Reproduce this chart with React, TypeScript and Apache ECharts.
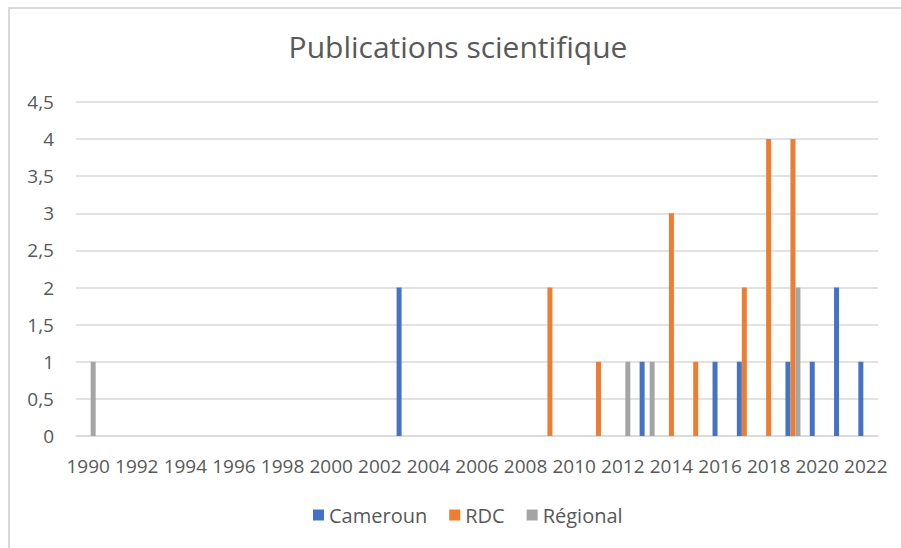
import React, { useEffect, useRef } from "react";
import * as echarts from "echarts";

const years: string[] = [];
for (let y = 1990; y <= 2022; y++) years.push(String(y));

// values per year 1990..2022 (0 = no bar)
const cameroun = [0,0,0,0,0,0,0,0,0,0,0,0,0,2,0,0,0,0,0,0,0,0,0,1,0,0,1,1,0,1,1,2,1];
const rdc      = [0,0,0,0,0,0,0,0,0,0,0,0,0,0,0,0,0,0,0,2,0,1,0,0,3,1,0,2,4,4,0,0,0];
const regional = [1,0,0,0,0,0,0,0,0,0,0,0,0,0,0,0,0,0,0,0,0,0,1,1,0,0,0,0,0,2,0,0,0];

const seriesNames = ["Cameroun", "RDC", "Régional"];
const seriesColors = ["#4472C4", "#ED7D31", "#A5A5A5"];
const titleText = "Publications scientifique";

const FONT = "'Open Sans', sans-serif";

export default function App() {
  const ref = useRef<HTMLDivElement>(null);
  useEffect(() => {
    if (!ref.current) return;
    const chart = echarts.init(ref.current, undefined, { renderer: "svg" });
    const data = [cameroun, rdc, regional];
    chart.setOption({
      animation: false,
      backgroundColor: "#ffffff",
      textStyle: { fontFamily: FONT },
      title: {
        text: titleText,
        left: 458,
        textAlign: "center",
        top: 31,
        padding: 0,
        textStyle: { fontFamily: FONT, fontSize: 30, fontWeight: "normal", color: "#595959" },
      },
      legend: {
        left: 313,
        top: 505,
        padding: 0,
        icon: "rect",
        itemWidth: 11,
        itemHeight: 11,
        itemGap: 22,
        textStyle: { fontFamily: FONT, fontSize: 20, color: "#595959" },
        data: seriesNames,
      },
      graphic: [
        {
          type: "rect",
          shape: { x: 9, y: 8, width: 1000, height: 1000 },
          style: { fill: "none", stroke: "#D9D9D9", lineWidth: 2 },
          silent: true,
          z: -1,
        },
      ],
      grid: { left: 76, right: 23, top: 102, bottom: 112 },
      xAxis: {
        type: "category",
        data: years,
        boundaryGap: true,
        axisLine: { lineStyle: { color: "#D9D9D9", width: 1.5 } },
        axisTick: { show: false },
        axisLabel: {
          interval: 1,
          margin: 20,
          fontFamily: FONT,
          fontSize: 19,
          color: "#595959",
        },
        splitLine: { show: false },
      },
      yAxis: {
        type: "value",
        min: 0,
        max: 4.5,
        interval: 0.5,
        axisLine: { show: false },
        axisTick: { show: false },
        axisLabel: {
          margin: 22,
          fontFamily: FONT,
          fontSize: 19,
          color: "#595959",
          formatter: (v: number) => String(v).replace(".", ","),
        },
        splitLine: { lineStyle: { color: "#D9D9D9", width: 1.5 } },
      },
      series: seriesNames.map((name, i) => ({
        name,
        type: "bar",
        data: data[i],
        barWidth: 5,
        barGap: "0%",
        itemStyle: { color: seriesColors[i] },
      })),
    });
    return () => chart.dispose();
  }, []);
  return (
    <div
      ref={ref}
      style={{ position: "fixed", left: 0, top: 0, width: 901, height: 548 }}
    />
  );
}
